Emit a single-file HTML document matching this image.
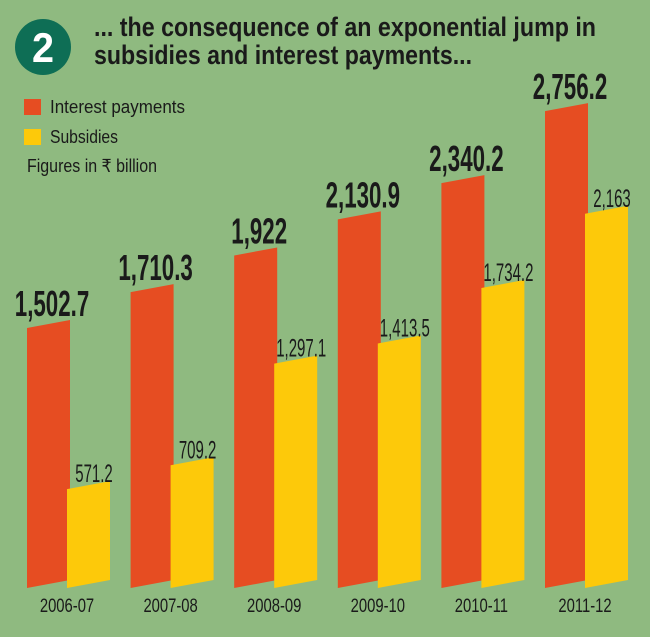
<!DOCTYPE html>
<html><head><meta charset="utf-8"><style>
html,body{margin:0;padding:0;background:#8fba80;}
svg{display:block;font-family:"Liberation Sans",sans-serif;}
</style></head><body>
<svg width="650" height="637" viewBox="0 0 650 637">
<rect width="650" height="637" fill="#8fba80"/>
<circle cx="43" cy="47" r="28" fill="#0e6e55"/>
<text x="43" y="62" text-anchor="middle" font-size="42" font-weight="bold" fill="#fff" textLength="22" lengthAdjust="spacingAndGlyphs">2</text>
<text x="94" y="36" font-size="27" font-weight="bold" fill="#1a1a1a" textLength="502" lengthAdjust="spacingAndGlyphs">... the consequence of an exponential jump in</text>
<text x="94" y="64" font-size="27" font-weight="bold" fill="#1a1a1a" textLength="378" lengthAdjust="spacingAndGlyphs">subsidies and interest payments...</text>
<rect x="24" y="99" width="17" height="16" fill="#e64d22"/>
<text x="50" y="113" font-size="18" fill="#1a1a1a" textLength="135" lengthAdjust="spacingAndGlyphs">Interest payments</text>
<rect x="24" y="129" width="17" height="16" fill="#fdc90a"/>
<text x="50" y="143" font-size="18" fill="#1a1a1a" textLength="68" lengthAdjust="spacingAndGlyphs">Subsidies</text>
<text x="27" y="172" font-size="18" fill="#1a1a1a" textLength="130" lengthAdjust="spacingAndGlyphs">Figures in ₹ billion</text>
<g id="bars"></g>
</svg>
<script>
const categories = ["2006-07","2007-08","2008-09","2009-10","2010-11","2011-12"];
const interest = [1502.7, 1710.3, 1922, 2130.9, 2340.2, 2756.2];
const subsidies = [571.2, 709.2, 1297.1, 1413.5, 1734.2, 2163];
const interestLabels = ["1,502.7","1,710.3","1,922","2,130.9","2,340.2","2,756.2"];
const subsidyLabels = ["571.2","709.2","1,297.1","1,413.5","1,734.2","2,163"];

const NS = "http://www.w3.org/2000/svg";
const g = document.getElementById("bars");
const base = 588, k = 0.173, bw = 43, slant = 8;
function xPos(i){ return 27 + i * 103.6; }
function yLen(v){ return v * k; }
function mk(tag, attrs){ const e = document.createElementNS(NS, tag); for (const a in attrs) e.setAttribute(a, attrs[a]); g.appendChild(e); return e; }
function bar(x, v, color){
  const h = yLen(v);
  return mk("polygon", {points: `${x},${base} ${x+bw},${base-slant} ${x+bw},${base-slant-h} ${x},${base-h}`, fill: color});
}
function txt(x, y, s, size, weight, sx){
  const t = mk("text", {transform: `translate(${x},${y}) scale(${sx},1)`, x: 0, y: 0, "text-anchor": "middle", "font-size": size, "font-weight": weight, fill: "#1a1a1a"});
  t.textContent = s;
  return t;
}
categories.forEach((c, i) => {
  const x = xPos(i);
  const r = bar(x, interest[i], "#e64d22");
  
  
  const y = bar(x + 40, subsidies[i], "#fdc90a");
  
  
  const rl = txt(x + 25, base - yLen(interest[i]) - 12, interestLabels[i], 36, "bold", 0.62);
  
  
  const yl = txt(x + 67, base - yLen(subsidies[i]) - 7, subsidyLabels[i], 25, "normal", 0.6);
  
  
  const xl = txt(x + 40, 612, c, 19, "normal", 0.78);
  
  
});
</script>
</body></html>
